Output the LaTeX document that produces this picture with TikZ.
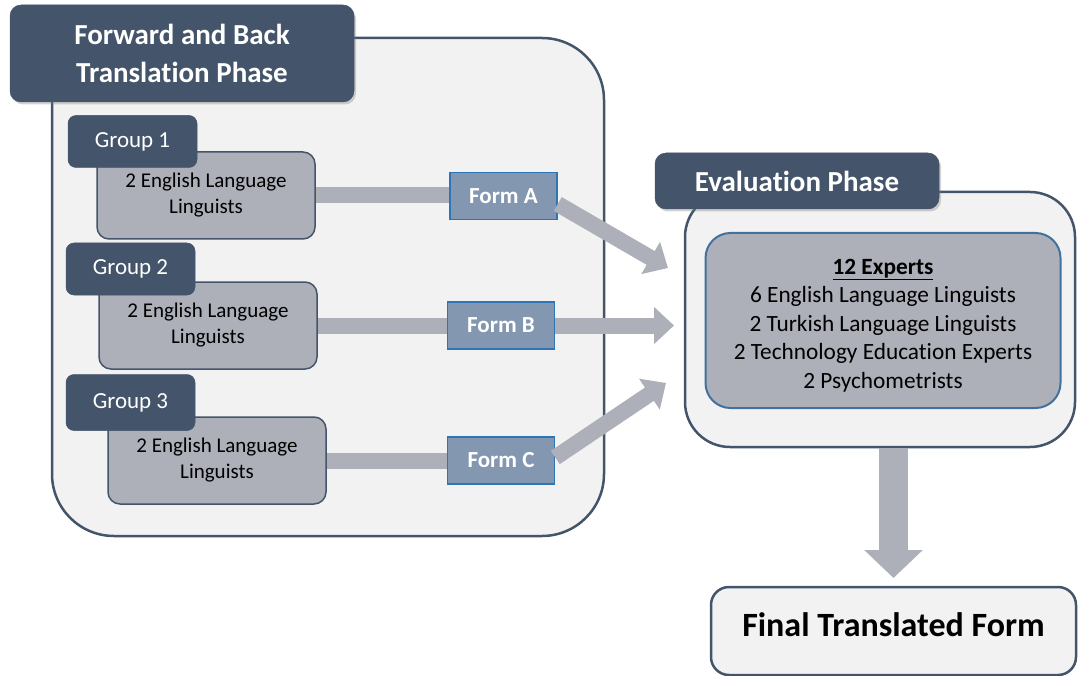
\documentclass[tikz,border=0pt]{standalone}
\usepackage{fontspec}
\setmainfont{Carlito}[Ligatures={NoCommon}]
\usetikzlibrary{arrows.meta,shadows,calc}
\definecolor{dark}{HTML}{44546A}
\definecolor{lightbg}{HTML}{F2F2F2}
\definecolor{graybox}{HTML}{ADB0B9}
\definecolor{formfill}{HTML}{8497B0}
\definecolor{formline}{HTML}{2E75B6}
\definecolor{expline}{HTML}{41719C}
\begin{document}
\begin{tikzpicture}[x=1pt,y=-1pt,
  container/.style={draw=dark, line width=2.5pt, fill=lightbg, inner sep=0pt},
  titlebox/.style={fill=dark, draw=dark, line width=0.5pt, rounded corners=11pt, text=white,
    font=\fontsize{29}{38}\selectfont\bfseries, align=center, inner sep=0pt,
    drop shadow={shadow xshift=2pt, shadow yshift=-2.5pt, opacity=0.35}},
  tabbox/.style={fill=dark, draw=dark, line width=0.5pt, rounded corners=8pt, text=white,
    font=\fontsize{23}{26}\selectfont, minimum width=129pt, minimum height=52pt, inner sep=0pt},
  membox/.style={fill=graybox, draw=dark, line width=1.5pt, rounded corners=12pt,
    font=\fontsize{21}{26}\selectfont, align=center, minimum width=218pt, minimum height=87pt, inner sep=0pt},
  formbox/.style={fill=formfill, draw=formline, line width=1.5pt, text=white,
    font=\fontsize{23}{26}\selectfont\bfseries, minimum width=107pt, minimum height=47pt, inner sep=0pt},
  bar/.style={draw=graybox, line width=16pt},
  blockarrow/.style={draw=graybox, line width=16pt, -{Triangle[width=36pt,length=20pt]}},
]
\useasboundingbox (0,0) rectangle (1078,676);
% left container
\node[container, rounded corners=62pt, minimum width=552pt, minimum height=498pt] (fbc) at (328,287) {};
\node[titlebox, minimum width=344pt, minimum height=97pt] (fbt) at (182,53.5) {Forward and Back\\Translation Phase};
% groups
\node[membox] (g1) at (206,195.5) {2 English Language\\Linguists};
\node[tabbox] (t1) at (132.5,141.5) {Group 1};
\node[membox] (g2) at (208,325.5) {2 English Language\\Linguists};
\node[tabbox] (t2) at (130.5,269) {Group 2};
\node[membox] (g3) at (217,460.5) {2 English Language\\Linguists};
\node[tabbox, minimum height=56pt] (t3) at (130.5,402.5) {Group 3};
% forms
\node[formbox] (fa) at (503.5,196) {Form A};
\node[formbox] (fb) at (501,325.5) {Form B};
\node[formbox] (fc) at (501,460.5) {Form C};
\draw[bar] (g1.east) -- (g1.east -| fa.west);
\draw[bar] (g2.east) -- (g2.east -| fb.west);
\draw[bar] (g3.east) -- (g3.east -| fc.west);
% evaluation
\node[container, rounded corners=45pt, minimum width=390pt, minimum height=255pt] (evc) at (880,319.5) {};
\node[titlebox, minimum width=284pt, minimum height=56pt] (evt) at (797,181) {Evaluation Phase};
\node[fill=graybox, draw=expline, line width=2pt, rounded corners=25pt, minimum width=355pt, minimum height=175pt,
  inner sep=0pt,
  label={[align=center, font=\fontsize{23.3}{28.5}\selectfont, yshift=-5pt]center:{\textbf{\underline{12 Experts}}\\6 English Language Linguists\\2 Turkish Language Linguists\\2 Technology Education Experts\\2 Psychometrists}}] (exp) at (883,320.5) {};
% arrows to evaluation
\coordinate (ta) at (668,268);
\coordinate (tb) at (674,325.5);
\coordinate (tc) at (666,383);
\draw[blockarrow] ($(fa.east)+(0,8)$) -- (ta);
\draw[blockarrow] (fb.east) -- (tb);
\draw[blockarrow] ($(fc.east)+(0,-3)$) -- (tc);
% final
\node[container, rounded corners=18pt, minimum width=365pt, minimum height=88pt,
  label={[font=\fontsize{34}{40}\selectfont\bfseries, yshift=6pt]center:Final Translated Form}] (fin) at (893.5,631) {};
\coordinate (td) at (893.5,578);
\draw[draw=graybox, line width=29pt, -{Triangle[width=57pt,length=28pt]}] (evc.south -| fin.north) -- (td);
\end{tikzpicture}
\end{document}
